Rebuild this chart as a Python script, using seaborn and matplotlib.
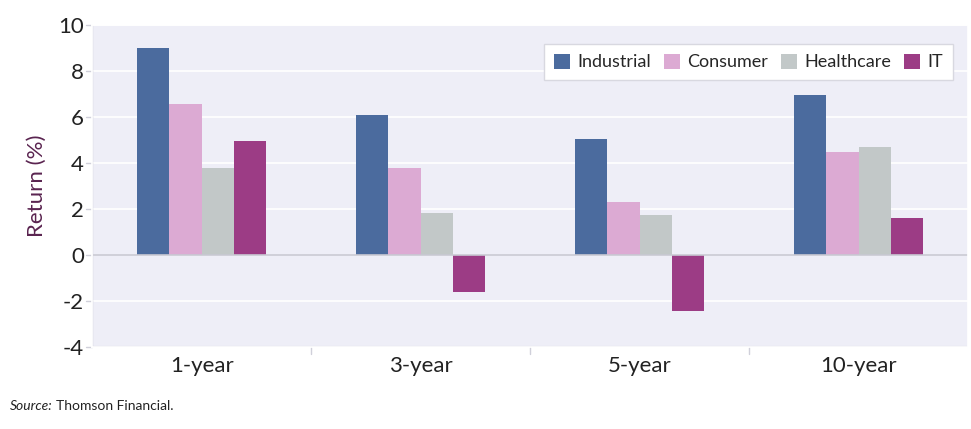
import pandas as pd
import seaborn as sns
import matplotlib.pyplot as plt

periods = ["1-year", "3-year", "5-year", "10-year"]
sectors = ["Industrial", "Consumer", "Healthcare", "IT"]
industrial = [9.0, 6.1, 5.05, 6.95]
consumer = [6.55, 3.8, 2.3, 4.5]
healthcare = [3.8, 1.85, 1.75, 4.7]
it = [4.95, -1.6, -2.4, 1.6]

colors = ["#4b6b9e", "#dcaad3", "#c2c8c8", "#9c3c85"]

df = pd.DataFrame({"Period": periods * 4,
                   "Sector": [s for s in sectors for _ in periods],
                   "Return": industrial + consumer + healthcare + it})

sns.set_theme(style="darkgrid")
plt.rcParams["font.family"] = ["Lato", "DejaVu Sans"]
plt.rcParams["axes.unicode_minus"] = False

fig, ax = plt.subplots(figsize=(9.71, 4.29), dpi=100)
fig.subplots_adjust(left=0.095, right=0.997, top=0.942, bottom=0.19)
ax.set_facecolor("#eeeef7")

sns.barplot(data=df, x="Period", y="Return", hue="Sector", order=periods,
            hue_order=sectors, palette=colors, width=0.59, gap=0,
            saturation=1, ax=ax, edgecolor="none")

ax.set_ylim(-4, 10)
ax.set_yticks(range(-4, 11, 2))
ax.set_xlim(-0.5, 3.5)
ax.grid(axis="y", color="white", linewidth=1.2)
ax.grid(axis="x", visible=False)
ax.axhline(0, color="#c8c8d2", linewidth=1.2, zorder=1)
ax.axhline(-4, color="#c8c8d2", linewidth=1.5, zorder=1)
ax.axvline(-0.5, color="#d0d0da", linewidth=1.0, zorder=1)
for x in [0.5, 1.5, 2.5]:
    ax.plot([x, x], [-4, -4.3], color="#d0d0da", lw=1, clip_on=False)
for y in range(-4, 11, 2):
    ax.plot([-0.5, -0.53], [y, y], color="#d0d0da", lw=1, clip_on=False)

ax.set_xlabel("")
ax.set_ylabel("Return (%)", fontsize=16, color="#5a2450", labelpad=8)
ax.tick_params(axis="both", labelsize=16, colors="#222222", pad=6, length=0)

ax.legend(loc="upper right", ncol=4, frameon=True, fontsize=13,
          handlelength=0.9, handleheight=0.9, handletextpad=0.4,
          columnspacing=0.7, borderpad=0.55, fancybox=False,
          facecolor="white", edgecolor="#d8d8e0", framealpha=1,
          bbox_to_anchor=(0.993, 0.97))

fig.text(0.01, 0.045, "Source:", fontsize=10, style="italic", color="#222222")
fig.text(0.058, 0.045, "Thomson Financial.", fontsize=10, color="#222222")

fig.savefig("out.png", dpi=100, facecolor="white")
